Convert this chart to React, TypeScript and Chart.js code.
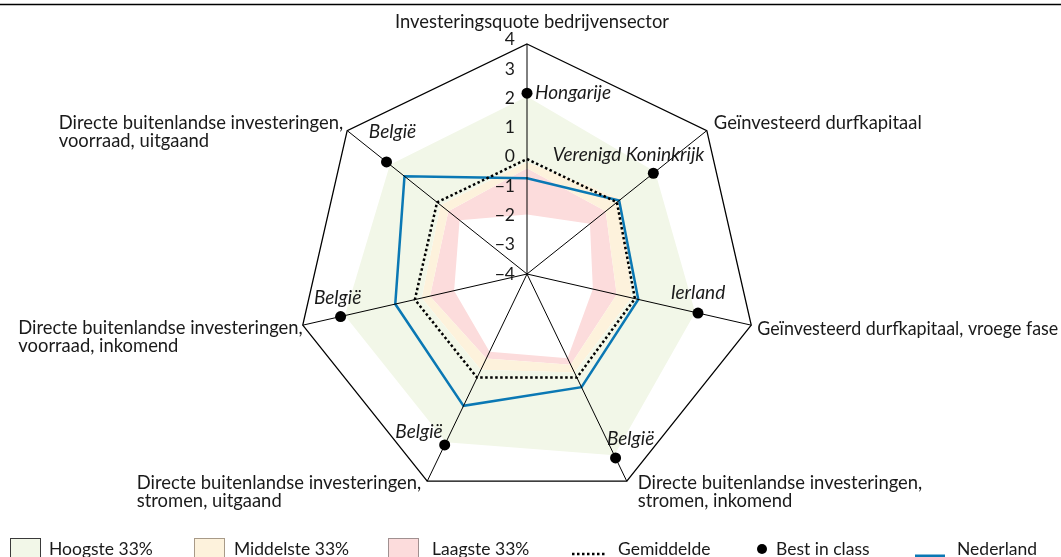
import React, { useEffect, useRef } from 'react';
import { Chart, registerables } from 'chart.js';

Chart.register(...registerables);

// ---------- data ----------
const categories: (string | string[])[] = [
  'Investeringsquote bedrijvensector',
  'Geïnvesteerd durfkapitaal',
  'Geïnvesteerd durfkapitaal, vroege fase',
  ['Directe buitenlandse investeringen,', 'stromen, inkomend'],
  ['Directe buitenlandse investeringen,', 'stromen, uitgaand'],
  ['Directe buitenlandse investeringen,', 'voorraad, inkomend'],
  ['Directe buitenlandse investeringen,', 'voorraad, uitgaand'],
];
const tickValues = [4, 3, 2, 1, 0, -1, -2, -3, -4];
const hoogsteTop = [2.17, 1.7, 2.0, 3.0, 2.5, 2.5, 2.1];
const middelsteTop = [-0.1, 0.2, -0.27, -0.2, -0.3, -0.24, -0.15];
const laagsteTop = [-0.32, -0.5, -0.8, -0.5, -0.74, -0.54, -0.5];
const laagsteBottom = [-1.93, -1.2, -1.65, -0.75, -1.0, -1.4, -1.0];
const gemiddelde = [0, 0, -0.15, 0, 0, 0, 0];
const nederland = [-0.67, 0.1, -0.03, 0.37, 1.09, 0.7, 1.45];
const bestInClass = [2.29, 1.62, 2.1, 3.1, 2.6, 2.65, 2.25];
const bestInClassLanden = ['Hongarije', 'Verenigd Koninkrijk', 'Ierland', 'België', 'België', 'België', 'België'];
const legendLabels = ['Hoogste 33%', 'Middelste 33%', 'Laagste 33%', 'Gemiddelde', 'Best in class', 'Nederland'];

// ---------- style ----------
const FONT = 'Lato, "Noto Sans", sans-serif';
const TEXT = '#1a1a1a';
const GREEN = '#f2f7e8';
const YELLOW = '#fdf2dc';
const PINK = '#fcdcdc';
const BLUE = '#0a78b4';

// label anchor offsets relative to outer vertex
const catLayout = [
  { dx: 5, dy: -22, align: 'center', maxW: 0 },
  { dx: 7, dy: -8, align: 'left', maxW: 0 },
  { dx: 6, dy: 4, align: 'left', maxW: 301 },
  { dx: 11, dy: 2, align: 'left', maxW: 0 },
  { dx: -6, dy: 2, align: 'blockright', maxW: 0 },
  { dx: 0, dy: 3, align: 'blockright', maxW: 0 },
  { dx: -4, dy: -8, align: 'blockright', maxW: 0 },
];
// best-in-class label offsets relative to the dot
const bicLayout = [
  { dx: 8, dy: 0, align: 'left' },
  { dx: 51, dy: -18, align: 'right' },
  { dx: 0, dy: -20, align: 'center' },
  { dx: 15, dy: -19, align: 'center' },
  { dx: -2, dy: -13, align: 'right' },
  { dx: -3, dy: -19, align: 'center' },
  { dx: 6, dy: -30, align: 'center' },
];
const legendX = [10, 194, 388, 572, 762, 915];
const legendTextX = [49, 234, 432, 618, 776, 957];

const fmt = (v: number) => (v < 0 ? '\u2212' + Math.abs(v) : String(v));

const decorPlugin = {
  id: 'decor',
  afterDraw(chart: any) {
    const ctx: CanvasRenderingContext2D = chart.ctx;
    const scale = chart.scales.r;
    ctx.save();

    // top rule
    ctx.strokeStyle = '#000';
    ctx.lineWidth = 1.5;
    ctx.beginPath();
    ctx.moveTo(0, 4.5);
    ctx.lineTo(chart.width, 4.5);
    ctx.stroke();

    // tick labels
    ctx.font = `17.5px ${FONT}`;
    ctx.fillStyle = TEXT;
    ctx.textAlign = 'right';
    ctx.textBaseline = 'middle';
    tickValues.forEach((v) => {
      const y = scale.yCenter - scale.getDistanceFromCenterForValue(v);
      ctx.fillText(fmt(v), scale.xCenter - 12, y - (v + 4) * 0.55);
    });

    // category labels
    ctx.font = `18.4px ${FONT}`;
    const lh = 18;
    categories.forEach((c, i) => {
      const p = scale.getPointPosition(i, scale.drawingArea);
      const lay = catLayout[i];
      const lines = Array.isArray(c) ? c : [c];
      const x = p.x + lay.dx;
      const y = p.y + lay.dy;
      const draw = (l: string, xx: number, yy: number) => {
        if (lay.maxW) ctx.fillText(l, xx, yy, lay.maxW);
        else ctx.fillText(l, xx, yy);
      };
      if (lay.align === 'blockright') {
        const w = Math.max(...lines.map((l) => ctx.measureText(l).width));
        ctx.textAlign = 'left';
        lines.forEach((l, k) => draw(l, x - w, y + k * lh));
      } else {
        ctx.textAlign = lay.align as CanvasTextAlign;
        lines.forEach((l, k) => draw(l, x, y + k * lh));
      }
    });

    // best in class labels
    const meta = chart.getDatasetMeta(6);
    ctx.font = `italic 19px ${FONT}`;
    bestInClassLanden.forEach((name, i) => {
      const el = meta.data[i];
      const lay = bicLayout[i];
      ctx.textAlign = lay.align as CanvasTextAlign;
      ctx.fillText(name, el.x + lay.dx, el.y + lay.dy);
    });

    // legend
    ctx.font = `17.5px ${FONT}`;
    ctx.textAlign = 'left';
    const ly = 549;
    const boxes = [
      { fill: GREEN, stroke: '#3a3a3a' },
      { fill: YELLOW, stroke: '#a89a88' },
      { fill: PINK, stroke: '#a09090' },
    ];
    boxes.forEach((b, k) => {
      ctx.fillStyle = b.fill;
      ctx.fillRect(legendX[k] + 0.5, 538.5, 30, 20);
      ctx.strokeStyle = b.stroke;
      ctx.lineWidth = 1;
      ctx.strokeRect(legendX[k] + 0.5, 538.5, 30, 20);
    });
    // dotted
    ctx.strokeStyle = '#000';
    ctx.lineWidth = 2.5;
    ctx.setLineDash([2.5, 2.5]);
    ctx.beginPath();
    ctx.moveTo(legendX[3], 554);
    ctx.lineTo(legendX[3] + 33, 554);
    ctx.stroke();
    ctx.setLineDash([]);
    // dot
    ctx.fillStyle = '#000';
    ctx.beginPath();
    ctx.arc(legendX[4], ly, 5, 0, Math.PI * 2);
    ctx.fill();
    // blue line
    ctx.strokeStyle = BLUE;
    ctx.lineWidth = 3;
    ctx.beginPath();
    ctx.moveTo(legendX[5], 556);
    ctx.lineTo(legendX[5] + 30, 556);
    ctx.stroke();

    ctx.fillStyle = TEXT;
    ctx.textBaseline = 'middle';
    legendLabels.forEach((t, k) => ctx.fillText(t, legendTextX[k], ly));

    ctx.restore();
  },
};

export default function App() {
  const ref = useRef<HTMLCanvasElement>(null);
  useEffect(() => {
    if (!ref.current) return;
    const chart = new Chart(ref.current, {
      type: 'radar',
      data: {
        labels: categories as any,
        datasets: [
          { label: 'Hoogste 33%', data: hoogsteTop, backgroundColor: GREEN, borderColor: 'transparent', borderWidth: 0, pointRadius: 0, fill: '+1' },
          { label: 'Middelste 33%', data: middelsteTop, backgroundColor: YELLOW, borderColor: 'transparent', borderWidth: 0, pointRadius: 0, fill: '+1' },
          { label: 'Laagste 33%', data: laagsteTop, backgroundColor: PINK, borderColor: 'transparent', borderWidth: 0, pointRadius: 0, fill: '+1' },
          { label: 'min', data: laagsteBottom, borderColor: 'transparent', borderWidth: 0, pointRadius: 0, fill: false },
          { label: 'Gemiddelde', data: gemiddelde, borderColor: '#000', borderWidth: 2.5, borderDash: [2.5, 2.5], borderCapStyle: 'butt', pointRadius: 0, fill: false },
          { label: 'Nederland', data: nederland, borderColor: BLUE, borderWidth: 2.5, pointRadius: 0, fill: false },
          { label: 'Best in class', data: bestInClass, showLine: false, borderWidth: 0, pointRadius: 5.5, pointBackgroundColor: '#000', pointBorderWidth: 0, fill: false },
        ] as any,
      },
      options: {
        responsive: false,
        animation: false,
        events: [],
        layout: { padding: { top: 44, bottom: 53, left: 0, right: 7 } },
        plugins: {
          legend: { display: false },
          tooltip: { enabled: false },
          filler: { drawTime: 'beforeDatasetsDraw' },
        } as any,
        elements: { line: { tension: 0 } },
        scales: {
          r: {
            min: -4,
            max: 4,
            ticks: { display: false, stepSize: 1 },
            pointLabels: { display: false },
            grid: {
              z: 1,
              color: (c: any) => (c.tick && c.tick.value === 4 ? '#000' : 'rgba(0,0,0,0)'),
              lineWidth: (c: any) => (c.tick && c.tick.value === 4 ? 1.3 : 0),
            },
            angleLines: { color: '#000', lineWidth: 1 },
          } as any,
        },
      },
      plugins: [decorPlugin],
    });
    return () => chart.destroy();
  }, []);
  return (
    <div style={{ position: 'fixed', left: 0, top: 0, width: 1061, height: 557, background: '#fff' }}>
      <canvas ref={ref} width={1061} height={557} style={{ display: 'block' }} />
    </div>
  );
}
